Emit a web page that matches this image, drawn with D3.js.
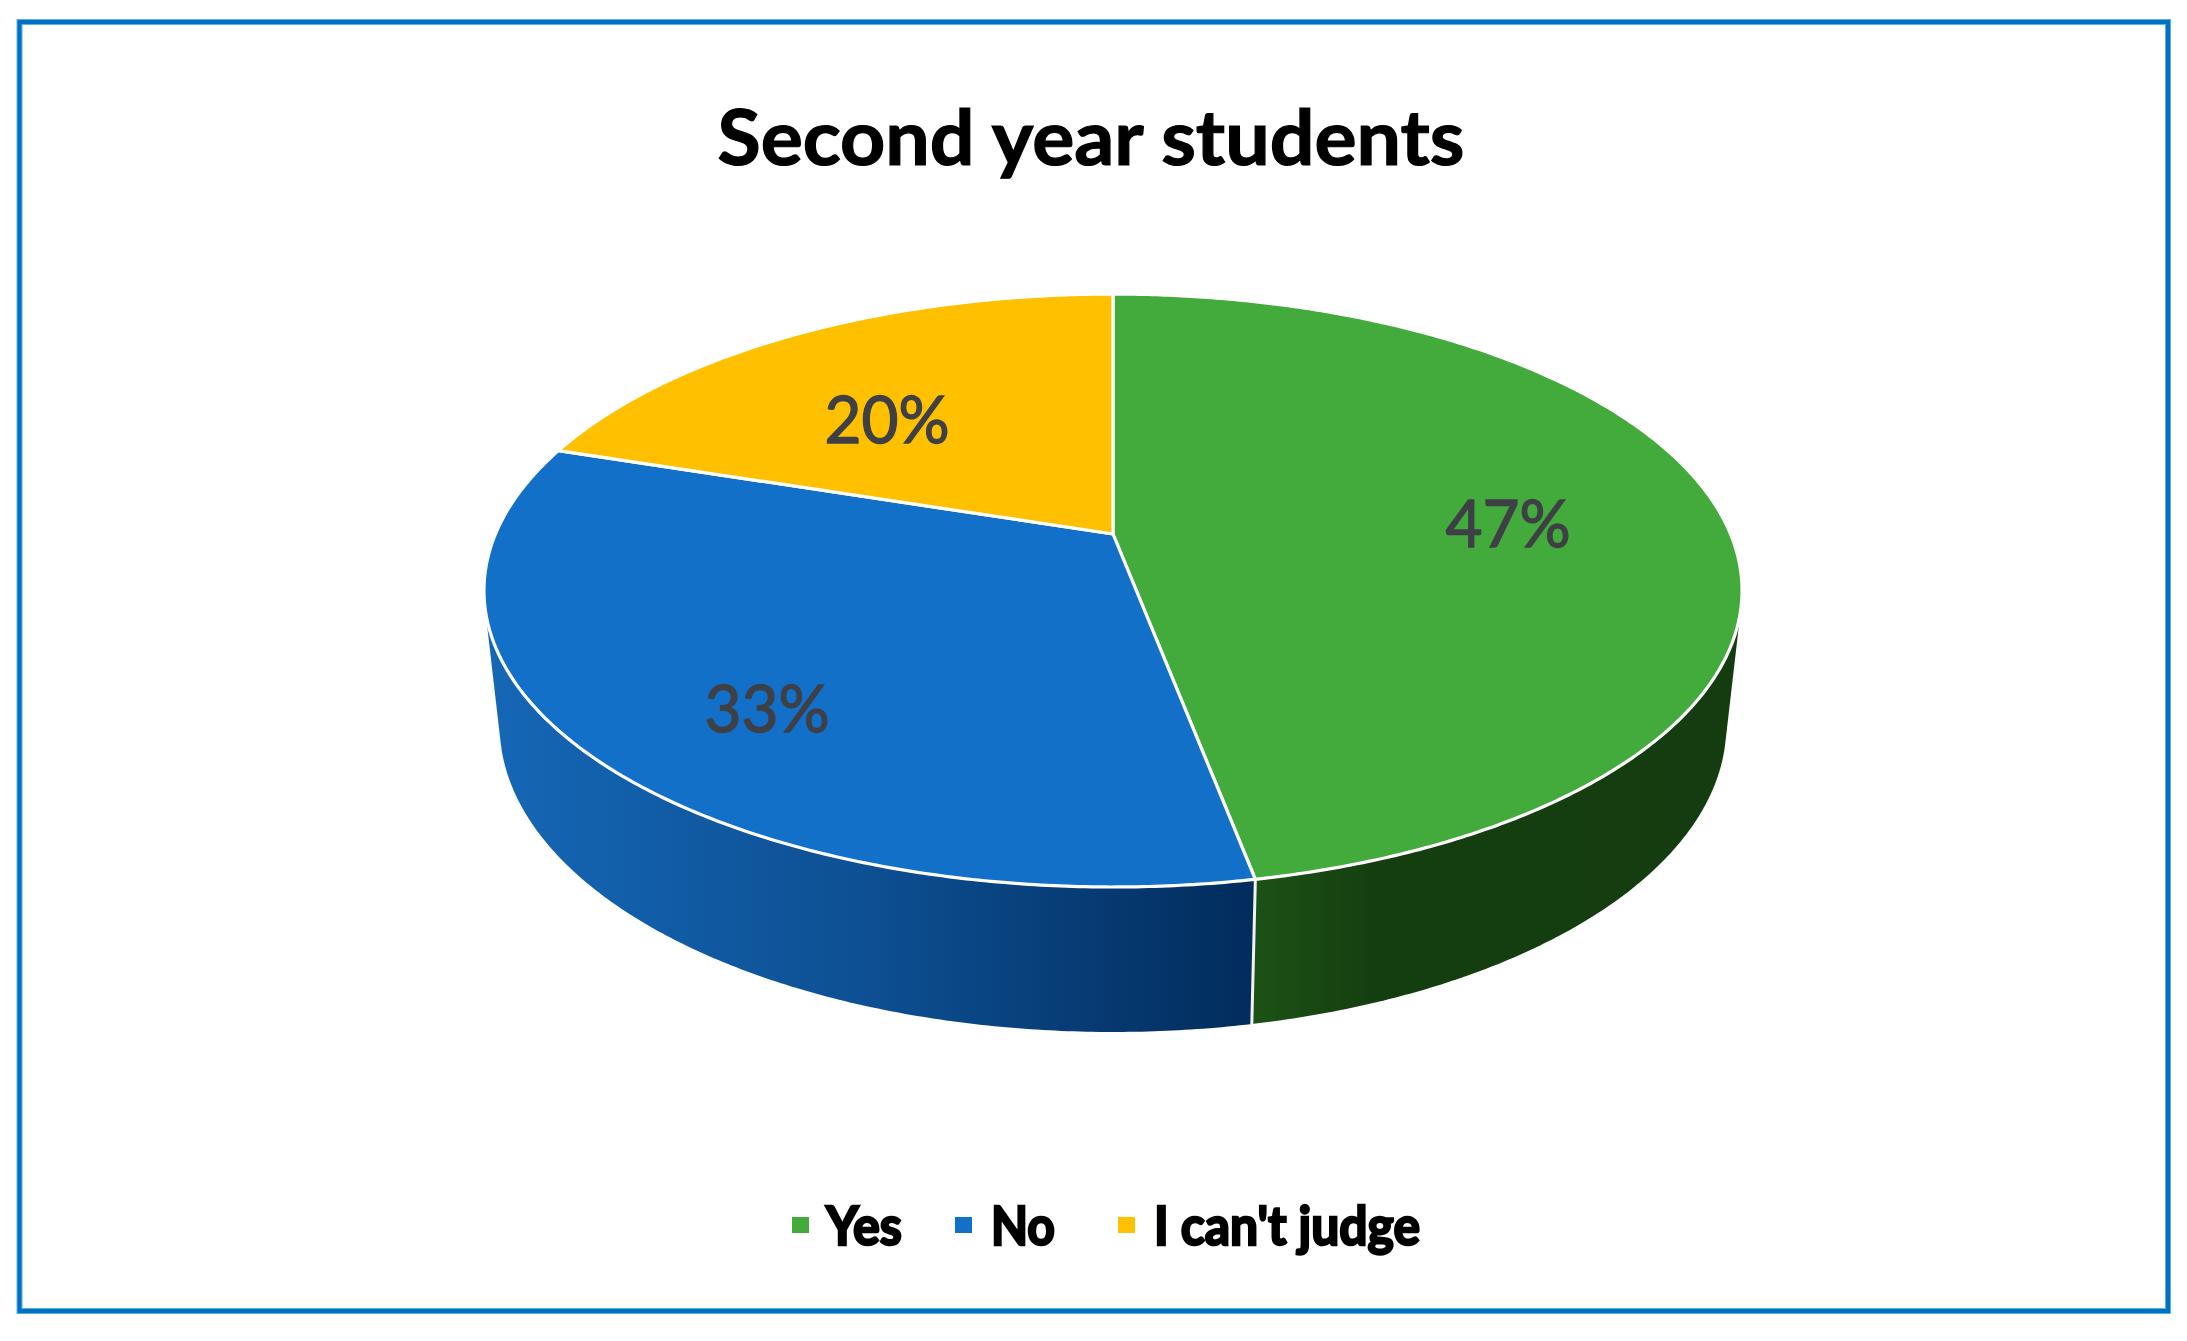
<!DOCTYPE html>
<html>
<head>
<meta charset="utf-8">
<script src="https://cdn.jsdelivr.net/npm/d3@7"></script>
<style>
  html, body { margin: 0; padding: 0; background: #fff; }
  svg { display: block; }
</style>
</head>
<body>
<svg id="chart" width="2187" height="1341"></svg>
<script>
var categories = ["Yes", "No", "I can't judge"];
var shares = [47, 33, 20];
var topColors = ["#43ab3c", "#1270c8", "#ffc000"];
var chartTitle = "Second year students";

var width = 2187, height = 1341;
var hub = {x: 1113, y: 534};
var rx = 617.5, ry = 285.7, tilt = -0.1906;  // tilt = perspective of the disc
var depth = {dy: 133, sx: 0.975, sy: 1.034};

var labelSpots = [[1508, 547], [767, 732], [887, 443]];   // centre x, baseline
var legendSwatchX = [792, 955, 1118];
var legendTextX = [826, 991, 1154];
var legendTextW = [76, 64, 266];

var svg = d3.select("#chart");
var color = d3.scaleOrdinal().domain(categories).range(topColors);

var pie = d3.pie().sort(null).value(function(d) { return d; });
var slices = pie(shares);

function project(a, f) {
  var u = f * Math.sin(a), v = -f * Math.cos(a), w = 1 + tilt * v;
  return [hub.x + rx * u / w, hub.y + ry * v / w];
}
function lower(p) {
  return [hub.x + (p[0] - hub.x) * depth.sx, hub.y + depth.dy + (p[1] - hub.y) * depth.sy];
}
function arcPoints(a0, a1) {
  var n = Math.max(2, Math.ceil(Math.abs(a1 - a0) * 120));
  return d3.range(n + 1).map(function(i) { return project(a0 + (a1 - a0) * i / n, 1); });
}

svg.append("rect").attr("width", width).attr("height", height).attr("fill", "#fff");

// frame
svg.append("rect").attr("x", 19.5).attr("y", 22).attr("width", 2148.5).attr("height", 1289)
    .attr("fill", "none").attr("stroke", "#5ab2e2").attr("stroke-width", 6);
svg.append("rect").attr("x", 19.5).attr("y", 22).attr("width", 2148.5).attr("height", 1289)
    .attr("fill", "none").attr("stroke", "#0070c4").attr("stroke-width", 4);

// title
svg.append("text").attr("x", 1091).attr("y", 165)
    .attr("text-anchor", "middle")
    .attr("font-family", "Lato, 'Open Sans', sans-serif")
    .attr("font-weight", 700).attr("font-size", 77)
    .attr("textLength", 747).attr("lengthAdjust", "spacingAndGlyphs")
    .attr("fill", "#000").attr("stroke", "#000").attr("stroke-width", 1.2)
    .text(chartTitle);

// wall gradients
var defs = svg.append("defs");
function wallGradient(id, x1, x2, stops) {
  var g = defs.append("linearGradient").attr("id", id)
      .attr("gradientUnits", "userSpaceOnUse")
      .attr("x1", x1).attr("x2", x2).attr("y1", 0).attr("y2", 0);
  stops.forEach(function(s) {
    g.append("stop").attr("offset", s[0]).attr("stop-color", s[1]);
  });
}
wallGradient("wall-no", 490, 1252, [[0, "#1567b6"], [0.5, "#0d4f92"], [1, "#022c5c"]]);
wallGradient("wall-yes", 1254, 1735, [[0, "#1c5216"], [0.25, "#153e10"], [1, "#143c10"]]);

var line = d3.line();

// side walls: only the near half of the disc shows
var rad = Math.PI / 180;
var walls = [
  {a0: 75 * rad, a1: slices[0].endAngle, fill: "url(#wall-yes)"},
  {a0: slices[1].startAngle, a1: 285 * rad, fill: "url(#wall-no)"}
];
walls.forEach(function(w) {
  var t = arcPoints(w.a0, w.a1);
  var hull = d3.polygonHull(t.concat(t.map(lower)));
  svg.append("path").attr("d", line(hull) + "Z").attr("fill", w.fill);
});

// seam between the walls
var seamTop = project(slices[0].endAngle, 1);
svg.append("path")
    .attr("d", line([seamTop, lower(seamTop)]))
    .attr("stroke", "#f2f2f2").attr("stroke-width", 3).attr("fill", "none");

// top face
svg.selectAll("path.slice")
  .data(slices)
  .enter().append("path")
    .attr("class", "slice")
    .attr("d", function(d) {
      return line([[hub.x, hub.y]].concat(arcPoints(d.startAngle, d.endAngle))) + "Z";
    })
    .attr("fill", function(d, i) { return color(categories[i]); })
    .attr("stroke", "#fff").attr("stroke-width", 3.2).attr("stroke-linejoin", "round");

// value labels
svg.selectAll("text.value")
  .data(slices)
  .enter().append("text")
    .attr("class", "value")
    .attr("x", function(d, i) { return labelSpots[i][0]; })
    .attr("y", function(d, i) { return labelSpots[i][1]; })
    .attr("text-anchor", "middle")
    .attr("font-family", "Lato, 'Open Sans', sans-serif")
    .attr("font-size", 66)
    .attr("textLength", 125).attr("lengthAdjust", "spacingAndGlyphs")
    .attr("fill", "#3e4046")
    .attr("stroke", "#3e4046").attr("stroke-width", 1.4)
    .text(function(d) { return d.data + "%"; });

// legend
var legend = svg.selectAll("g.legend")
  .data(categories)
  .enter().append("g").attr("class", "legend");
legend.append("rect")
    .attr("x", function(d, i) { return legendSwatchX[i]; })
    .attr("y", 1217).attr("width", 17).attr("height", 16)
    .attr("fill", function(d) { return color(d); });
legend.append("text")
    .attr("x", function(d, i) { return legendTextX[i]; })
    .attr("y", 1245)
    .attr("font-family", "Lato, 'Open Sans', sans-serif")
    .attr("font-weight", 700).attr("font-size", 54)
    .attr("textLength", function(d, i) { return legendTextW[i]; })
    .attr("lengthAdjust", "spacingAndGlyphs")
    .attr("fill", "#000").attr("stroke", "#000").attr("stroke-width", 2.5)
    .text(function(d) { return d; });
</script>
</body>
</html>
